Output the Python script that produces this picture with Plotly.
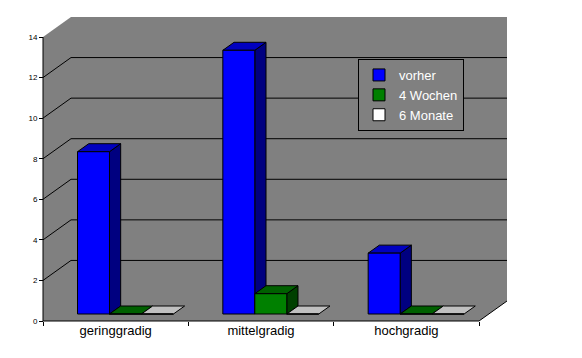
import plotly.graph_objects as go

# ---- data ----
categories = ["geringgradig", "mittelgradig", "hochgradig"]
series_names = ["vorher", "4 Wochen", "6 Monate"]
vorher = [8, 13, 3]
wochen4 = [0, 1, 0]
monate6 = [0, 0, 0]
y_ticks = [0, 2, 4, 6, 8, 10, 12, 14]

series_values = [vorher, wochen4, monate6]

# ---- styling ----
front_colors = ["#0000FF", "#008000", "#FFFFFF"]
top_colors = ["#0000C0", "#006000", "#C0C0C0"]
side_colors = ["#000080", "#004000", "#A0A0A0"]
wall_color = "#808080"
FONT = "Liberation Sans, Arial, sans-serif"

# ---- geometry (in axis units) ----
PX_X = 436 / 3.0        # pixels per category unit
PX_Y = 284 / 14.0       # pixels per value unit
DX = 28 / PX_X          # depth offset of back wall (x)
DY = 20 / PX_Y          # depth offset of back wall (y)
F_FRONT, F_DEPTH = 0.35, 0.40
BASE = F_FRONT * DY
SHIFT = F_FRONT * DX
BDX, BDY = F_DEPTH * DX, F_DEPTH * DY
BAR_W = 0.22
YMAX = 14
NCAT = len(categories)

# page offset of the figure inside the window (body margin)
OFF = 8
W, H = 582 - 2 * OFF, 358 - 2 * OFF
AX0_X, AX0_Y = 43 - OFF, 321 - OFF  # pixel of (0, 0) inside the figure
L, T = AX0_X - 3, 2
R = W - (522 - OFF)
B = H - (AX0_Y + 3)
x_range = [(L - AX0_X) / PX_X, (W - R - AX0_X) / PX_X]
y_range = [(AX0_Y - (H - B)) / PX_Y, (AX0_Y - T) / PX_Y]
plot_w, plot_h = W - L - R, H - T - B

shapes = []
# walls + floor
shapes.append(dict(type="path", xref="x", yref="y", layer="below",
                   path=f"M0,{YMAX} L{DX},{YMAX+DY} L{NCAT+DX},{YMAX+DY} L{NCAT+DX},{DY} L{NCAT},0 L0,0 Z",
                   fillcolor=wall_color, line=dict(width=0)))
# gridlines
for v in y_ticks[1:-1]:
    shapes.append(dict(type="path", xref="x", yref="y", layer="below",
                       path=f"M0,{v} L{DX},{v+DY} L{NCAT+DX},{v+DY}",
                       line=dict(color="black", width=1)))
# floor right edge
shapes.append(dict(type="line", xref="x", yref="y", layer="below",
                   x0=NCAT, y0=0, x1=NCAT + DX, y1=DY, line=dict(color="black", width=1)))
# axis lines
shapes.append(dict(type="line", xref="x", yref="y", layer="below",
                   x0=0, y0=0, x1=NCAT, y1=0, line=dict(color="black", width=1)))
shapes.append(dict(type="line", xref="x", yref="y", layer="below",
                   x0=0, y0=0, x1=0, y1=YMAX, line=dict(color="black", width=1)))

fig = go.Figure()
bar_x = []
for i, vals in enumerate(series_values):
    xs = []
    for c in range(NCAT):
        xl = c + 0.5 - 1.5 * BAR_W + i * BAR_W + SHIFT
        xs.append(xl + BAR_W / 2)
    bar_x.append(xs)

# top / side faces, painted left to right
for c in range(NCAT):
    for i, vals in enumerate(series_values):
        v = vals[c]
        xl = bar_x[i][c] - BAR_W / 2
        xr = xl + BAR_W
        b = BASE
        t = BASE + v
        if v > 0:
            shapes.append(dict(type="path", xref="x", yref="y", layer="below",
                               path=f"M{xr},{b} L{xr},{t} L{xr+BDX},{t+BDY} L{xr+BDX},{b+BDY} Z",
                               fillcolor=side_colors[i], line=dict(color="black", width=1)))
        shapes.append(dict(type="path", xref="x", yref="y", layer="below",
                           path=f"M{xl},{t} L{xr},{t} L{xr+BDX},{t+BDY} L{xl+BDX},{t+BDY} Z",
                           fillcolor=top_colors[i], line=dict(color="black", width=1)))

for i, vals in enumerate(series_values):
    fig.add_trace(go.Bar(
        x=bar_x[i], y=vals, base=BASE, width=BAR_W, name=series_names[i],
        marker=dict(color=front_colors[i], line=dict(color="black", width=1)),
        hovertext=categories, hoverinfo="text+y+name",
    ))

LEG_LEFT, LEG_TOP = 358 - OFF, 59 - OFF
fig.update_layout(
    width=W, height=H,
    margin=dict(l=L, r=R, t=T, b=B, autoexpand=False),
    paper_bgcolor="white", plot_bgcolor="white",
    barmode="overlay",
    shapes=shapes,
    font=dict(family=FONT, color="black"),
    showlegend=True,
    legend=dict(
        x=(LEG_LEFT - L) / plot_w, y=(H - B - LEG_TOP) / plot_h, xanchor="left", yanchor="top",
        bgcolor=wall_color, bordercolor="black", borderwidth=1,
        font=dict(family=FONT, size=13, color="white"),
        traceorder="normal",
    ),
    xaxis=dict(
        range=x_range, showgrid=False, zeroline=False, showline=False,
        tickmode="array", tickvals=[c + 0.5 for c in range(NCAT)], ticktext=categories,
        ticks="", tickfont=dict(family=FONT, size=13, color="black"),
        minor=dict(tickmode="array", tickvals=list(range(NCAT + 1)), ticks="outside",
                   ticklen=4, tickcolor="black", tickwidth=1, showgrid=False),
        anchor="free", position=(H - B - AX0_Y) / plot_h, fixedrange=True,
    ),
    yaxis=dict(
        range=y_range, showgrid=False, zeroline=False, showline=False,
        tickmode="array", tickvals=y_ticks, ticks="outside", ticklen=4,
        tickcolor="black", tickwidth=1, tickfont=dict(family=FONT, size=8, color="black"),
        anchor="free", position=(AX0_X - L) / plot_w, fixedrange=True,
    ),
)

fig.write_html("out.html")
